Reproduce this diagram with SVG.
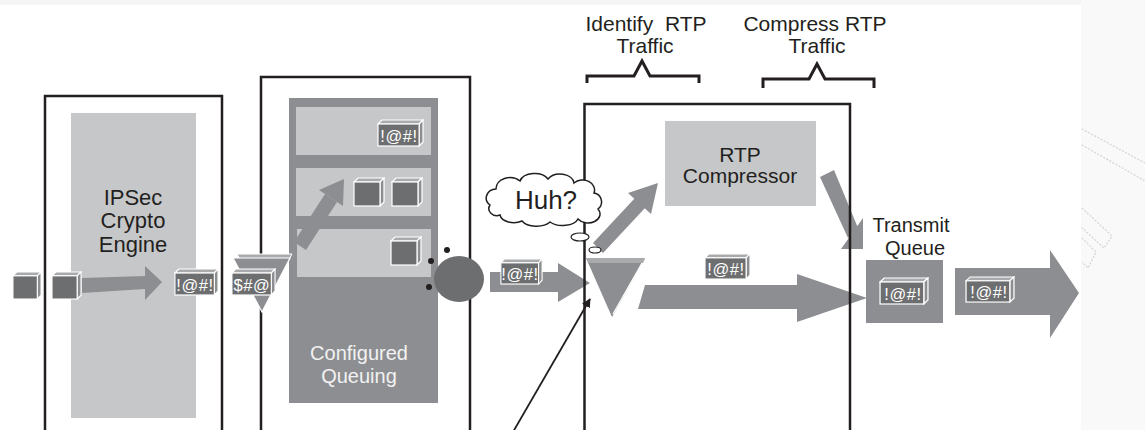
<svg xmlns="http://www.w3.org/2000/svg" width="1145" height="430" viewBox="0 0 1145 430">
  <style>
    .frame { fill: none; stroke: #231f20; stroke-width: 2.5; }
    .panel { fill: #c6c7c9; }
    .dark { fill: #8d8e91; }
    .flow { fill: #8d8e91; }
    .label { font-family: "Liberation Sans", Arial, sans-serif; fill: #231f20; text-anchor: middle; white-space: pre; }
    .pkt-text { font-family: "Liberation Sans", Arial, sans-serif; fill: #ffffff; text-anchor: middle; font-size: 16.5px; letter-spacing: 0.6px; }
    .brace { fill: none; stroke: #231f20; stroke-width: 3; stroke-linejoin: miter; }
  </style>
  <defs>
    <!-- packet block: front face, bevelled top and right side -->
    <symbol id="pkt" viewBox="0 0 48 28" preserveAspectRatio="none">
      <polygon points="1,5 5,1 47,1 43,5" fill="#a9aaac" stroke="#ffffff" stroke-width="1.2"/>
      <polygon points="43,5 47,1 47,23 43,27" fill="#8d8e91" stroke="#ffffff" stroke-width="1.2"/>
      <rect x="1" y="5" width="42" height="22" fill="#6d6e70" stroke="#ffffff" stroke-width="1.2"/>
    </symbol>
    <!-- plain cube -->
    <symbol id="cube" viewBox="0 0 32 30" preserveAspectRatio="none">
      <polygon points="1,5 5,1 31,1 27,5" fill="#a9aaac" stroke="#ffffff" stroke-width="1.2"/>
      <polygon points="27,5 31,1 31,25 27,29" fill="#8d8e91" stroke="#ffffff" stroke-width="1.2"/>
      <rect x="1" y="5" width="26" height="24" fill="#6d6e70" stroke="#ffffff" stroke-width="1.2"/>
    </symbol>
    <marker id="blackhead" viewBox="0 0 10 10" refX="9" refY="5" markerWidth="5" markerHeight="5" orient="auto" markerUnits="strokeWidth">
      <path d="M0,0 L10,5 L0,10 Z" fill="#231f20"/>
    </marker>
  </defs>

  <!-- page background -->
  <rect x="0" y="0" width="1145" height="430" fill="#ffffff"/>
  <rect x="0" y="0" width="1081" height="5" fill="#f5f5f5"/>
  <rect x="1081" y="0" width="64" height="430" fill="#f9f9f9"/>
  <g stroke="#d4d4d4" stroke-width="1.2" stroke-dasharray="2 1.5" fill="none">
    <line x1="1082" y1="129" x2="1145" y2="163"/>
    <line x1="1082" y1="145" x2="1145" y2="181"/>
    <polyline points="1082,208 1112,236 1104,248 1082,228"/>
    <polyline points="1082,238 1096,252 1088,268 1082,262"/>
  </g>

  <!-- IPSec engine panel -->
  <g id="ipsec">
    <rect class="panel" x="71" y="113" width="125" height="305"/>
    <text class="label" font-size="22"><tspan x="133" y="205">IPSec</tspan><tspan x="133" y="228">Crypto</tspan><tspan x="133" y="252">Engine</tspan></text>
  </g>

  <!-- configured queuing panel -->
  <g id="queuing">
    <rect class="dark" x="289" y="98" width="149" height="305"/>
    <rect class="panel" x="296" y="107" width="135" height="48"/>
    <rect class="panel" x="296" y="168" width="135" height="48"/>
    <rect class="panel" x="297" y="229" width="134" height="48"/>
    <text class="label" font-size="20" style="fill:#f2f2f2"><tspan x="359" y="360">Configured</tspan><tspan x="359" y="383">Queuing</tspan></text>
  </g>

  <!-- RTP compressor -->
  <g id="rtp-compressor">
    <rect class="panel" x="665" y="121" width="151" height="85"/>
    <text class="label" font-size="21"><tspan x="740" y="162">RTP</tspan><tspan x="740" y="183">Compressor</tspan></text>
  </g>

  <!-- transmit queue -->
  <g id="transmit-queue">
    <text class="label" font-size="20"><tspan x="911" y="232">Transmit</tspan><tspan x="915" y="255">Queue</tspan></text>
    <rect class="dark" x="866" y="260" width="77" height="63"/>
  </g>

  <!-- connectors: flow arrows -->
  <g id="connectors">
    <!-- into the crypto engine -->
    <polygon class="flow" points="82,278 145,276 145,266 162,282 145,300 145,289 82,293"/>
    <!-- up into the middle queue -->
    <polygon class="flow" points="294,242 325,194 337,202 306,250"/>
    <polygon class="flow" points="344,179 343,206 319,190"/>
    <!-- out of the scheduler to the classifier -->
    <polygon class="flow" points="490,272 558,272 558,263 590,283 558,302 558,292 490,292"/>
    <!-- classifier to compressor -->
    <polygon class="flow" points="593,243 635,198 645,208 603,253"/>
    <polygon class="flow" points="658,183 651,214 628,193"/>
    <!-- compressor to transmit queue -->
    <polygon class="flow" points="820,177 834,170 858,228 848,238"/>
    <polygon class="flow" points="863,218 863,249 841,249"/>
    <!-- classifier straight to transmit queue -->
    <polygon class="flow" points="645,285 797,285 797,274 867,298 797,322 797,309 638,309"/>
    <!-- out of the transmit queue -->
    <polygon class="flow" points="955,268 1050,268 1050,250 1079,293 1050,338 1050,315 955,315"/>
    <!-- pointer to the classifier -->
    <line x1="513" y1="432" x2="590" y2="299" stroke="#231f20" stroke-width="1.8" marker-end="url(#blackhead)"/>
  </g>

  <!-- router stage outlines -->
  <g id="stage-outlines">
    <polyline class="frame" points="45,432 45,96 222,96 222,432"/>
    <polyline class="frame" points="261,432 261,77 470,77 470,432"/>
    <polyline class="frame" points="584.5,432 584.5,104 850,104 850,432"/>
  </g>

  <!-- scheduler -->
  <g id="scheduler">
    <ellipse cx="459" cy="279" rx="25" ry="23" fill="#6d6e70"/>
    <circle cx="447" cy="250" r="3" fill="#231f20"/>
    <circle cx="431" cy="261" r="3" fill="#231f20"/>
    <circle cx="429" cy="287" r="3" fill="#231f20"/>
  </g>

  <!-- classifier funnels -->
  <g id="classifier-in">
    <polygon points="237,254 292,254 265,306" fill="#a9aaac" stroke="#ffffff" stroke-width="1"/>
    <polygon points="233,258 290,258 262,312" fill="#8d8e91" stroke="#ffffff" stroke-width="1.2"/>
  </g>
  <g id="classifier-rtp">
    <polygon points="586,258 645,258 612,317" fill="#8d8e91"/>
    <polygon points="586,258 645,258 643,263 589,263" fill="#a9aaac"/>
    <line x1="642" y1="263" x2="613" y2="314" stroke="#ffffff" stroke-width="1.2"/>
  </g>

  <!-- packets and cubes -->
  <g id="packets">
    <use href="#cube" x="12" y="271" width="30" height="29"/>
    <use href="#cube" x="51" y="271" width="31" height="29"/>
    <use href="#pkt" x="174" y="268" width="45" height="28"/>
    <text class="pkt-text" x="195" y="291">!@#!</text>
    <use href="#pkt" x="231" y="268" width="45" height="28"/>
    <text class="pkt-text" x="252" y="291">$#@</text>
    <use href="#pkt" x="377" y="119" width="47" height="28"/>
    <text class="pkt-text" x="399" y="142">!@#!</text>
    <use href="#cube" x="353" y="177" width="32" height="30"/>
    <use href="#cube" x="391" y="177" width="32" height="30"/>
    <use href="#cube" x="390" y="236" width="32" height="30"/>
    <use href="#pkt" x="500" y="258" width="43" height="27"/>
    <text class="pkt-text" x="520" y="280">!@#!</text>
    <use href="#pkt" x="704" y="253" width="47" height="27"/>
    <text class="pkt-text" x="726" y="275">!@#!</text>
    <use href="#pkt" x="879" y="277" width="50" height="28"/>
    <text class="pkt-text" x="903" y="300">!@#!</text>
    <use href="#pkt" x="965" y="276" width="50" height="27"/>
    <text class="pkt-text" x="989" y="298">!@#!</text>
  </g>

  <!-- thought bubble -->
  <g id="huh">
    <path d="M490,205 a10,9 0 0 1 6,-16 a14,11 0 0 1 24,-8 a15,10 0 0 1 28,-2 a14,10 0 0 1 26,4 a12,10 0 0 1 20,10 a9,9 0 0 1 4,16 a12,9 0 0 1 -20,10 a16,9 0 0 1 -28,3 a16,9 0 0 1 -28,-1 a14,9 0 0 1 -22,-6 a8,7 0 0 1 -10,-10 Z" fill="#ffffff" stroke="#231f20" stroke-width="1.5"/>
    <text class="label" x="546" y="209" font-size="26">Huh?</text>
    <ellipse cx="580" cy="237" rx="9" ry="4" fill="#ffffff" stroke="#231f20" stroke-width="1.2"/>
    <ellipse cx="595" cy="250" rx="6" ry="3" fill="#ffffff" stroke="#231f20" stroke-width="1.2"/>
  </g>

  <!-- stage captions -->
  <g id="caption-identify">
    <text class="label" font-size="21"><tspan x="646" y="31">Identify  RTP</tspan><tspan x="645" y="53">Traffic</tspan></text>
    <path class="brace" d="M587,83 V76 H634 L642,61 L650,76 H699 V83"/>
  </g>
  <g id="caption-compress">
    <text class="label" font-size="21"><tspan x="815" y="31">Compress RTP</tspan><tspan x="817" y="53">Traffic</tspan></text>
    <path class="brace" d="M763,88 V79 H809 L817,64 L825,79 H874 V88"/>
  </g>
</svg>
